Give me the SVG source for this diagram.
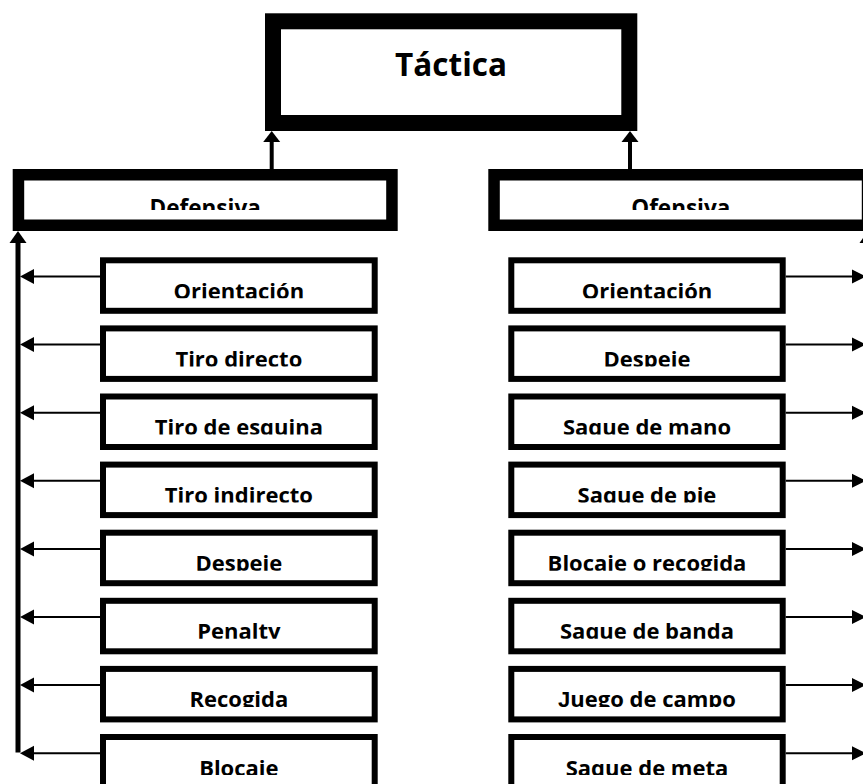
<svg xmlns="http://www.w3.org/2000/svg" width="863" height="784" viewBox="0 0 863 784">
<style>
text{font-family:"Open Sans","Noto Sans","Liberation Sans",sans-serif;font-weight:700;fill:#000;text-anchor:middle}
.sm{font-size:22px}
.hd{font-size:22.5px}
.top{font-size:31.5px}
.j{font-family:"Liberation Sans",sans-serif}
.box{fill:#fff;stroke:#000;stroke-width:6}
.hbox{fill:#fff;stroke:#000;stroke-width:11.5}
.tbox{fill:#fff;stroke:#000;stroke-width:16}
.thin{stroke:#000;stroke-width:2;fill:none}
.thick{stroke:#000;stroke-width:5;fill:none}
.mid{stroke:#000;stroke-width:4;fill:none}
.head{fill:#000}
</style>
<defs>
<clipPath id="cs" clipPathUnits="userSpaceOnUse"><rect x="0" y="0" width="400" height="41"/></clipPath>
<clipPath id="ch" clipPathUnits="userSpaceOnUse"><rect x="0" y="0" width="400" height="41"/></clipPath>
</defs>
<rect width="863" height="784" fill="#fff"/>

<g id="connectors">
  <line class="mid" x1="271.7" y1="169" x2="271.7" y2="141"/>
  <polygon class="head" points="271.7,131 263.2,142 280.2,142"/>
  <line class="mid" x1="630" y1="169" x2="630" y2="141"/>
  <polygon class="head" points="630,131 621.5,142 638.5,142"/>
  <line class="thick" x1="18" y1="242" x2="18" y2="752.5"/>
  <polygon class="head" points="18,231 9.5,243 26.5,243"/>
  <line class="thick" x1="868" y1="242" x2="868" y2="752.5"/>
  <polygon class="head" points="868,231 859.5,243 876.5,243"/>
  <g id="left-arrows">
    <line class="thin" x1="100" y1="276.5" x2="33" y2="276.5"/><polygon class="head" points="20,276.5 34,269 34,284"/>
    <line class="thin" x1="100" y1="344.6" x2="33" y2="344.6"/><polygon class="head" points="20,344.6 34,337.1 34,352.1"/>
    <line class="thin" x1="100" y1="412.7" x2="33" y2="412.7"/><polygon class="head" points="20,412.7 34,405.2 34,420.2"/>
    <line class="thin" x1="100" y1="480.8" x2="33" y2="480.8"/><polygon class="head" points="20,480.8 34,473.3 34,488.3"/>
    <line class="thin" x1="100" y1="548.9" x2="33" y2="548.9"/><polygon class="head" points="20,548.9 34,541.4 34,556.4"/>
    <line class="thin" x1="100" y1="617" x2="33" y2="617"/><polygon class="head" points="20,617 34,609.5 34,624.5"/>
    <line class="thin" x1="100" y1="685.1" x2="33" y2="685.1"/><polygon class="head" points="20,685.1 34,677.6 34,692.6"/>
    <line class="thin" x1="100" y1="753.2" x2="33" y2="753.2"/><polygon class="head" points="20,753.2 34,745.7 34,760.7"/>
  </g>
  <g id="right-arrows">
    <line class="thin" x1="785.7" y1="276.5" x2="853" y2="276.5"/><polygon class="head" points="866,276.5 852,269.5 852,283.5"/>
    <line class="thin" x1="785.7" y1="344.6" x2="853" y2="344.6"/><polygon class="head" points="866,344.6 852,337.6 852,351.6"/>
    <line class="thin" x1="785.7" y1="412.7" x2="853" y2="412.7"/><polygon class="head" points="866,412.7 852,405.7 852,419.7"/>
    <line class="thin" x1="785.7" y1="480.8" x2="853" y2="480.8"/><polygon class="head" points="866,480.8 852,473.8 852,487.8"/>
    <line class="thin" x1="785.7" y1="548.9" x2="853" y2="548.9"/><polygon class="head" points="866,548.9 852,541.9 852,555.9"/>
    <line class="thin" x1="785.7" y1="617" x2="853" y2="617"/><polygon class="head" points="866,617 852,610 852,624"/>
    <line class="thin" x1="785.7" y1="685.1" x2="853" y2="685.1"/><polygon class="head" points="866,685.1 852,678.1 852,692.1"/>
    <line class="thin" x1="785.7" y1="753.2" x2="853" y2="753.2"/><polygon class="head" points="866,753.2 852,746.2 852,760.2"/>
  </g>
</g>

<g id="tactica">
  <rect class="tbox" x="273" y="21.3" width="356.3" height="101.7"/>
  <text class="top" x="451" y="76">Táctica</text>
</g>

<g id="defensiva" transform="translate(12.7,169)">
  <rect class="hbox" x="5.75" y="5.75" width="373.5" height="50.5"/>
  <text class="hd" x="192.5" y="46.6" clip-path="url(#ch)">Defensiva</text>
</g>
<g id="ofensiva" transform="translate(488.3,169)">
  <rect class="hbox" x="5.75" y="5.75" width="373.5" height="50.5"/>
  <text class="hd" x="192.5" y="46.6" clip-path="url(#ch)">Ofensiva</text>
</g>

<g id="d1" transform="translate(100,257.3)"><rect class="box" x="3" y="3" width="271.7" height="50.5"/><text class="sm" x="138.85" y="41.6" clip-path="url(#cs)">Orientación</text></g>
<g id="d2" transform="translate(100,325.4)"><rect class="box" x="3" y="3" width="271.7" height="50.5"/><text class="sm" x="138.85" y="41.6" clip-path="url(#cs)">Tiro directo</text></g>
<g id="d3" transform="translate(100,393.5)"><rect class="box" x="3" y="3" width="271.7" height="50.5"/><text class="sm" x="138.85" y="41.6" clip-path="url(#cs)">Tiro de esquina</text></g>
<g id="d4" transform="translate(100,461.6)"><rect class="box" x="3" y="3" width="271.7" height="50.5"/><text class="sm" x="138.85" y="41.6" clip-path="url(#cs)">Tiro indirecto</text></g>
<g id="d5" transform="translate(100,529.7)"><rect class="box" x="3" y="3" width="271.7" height="50.5"/><text class="sm" x="138.85" y="41.6" clip-path="url(#cs)">Despeje</text></g>
<g id="d6" transform="translate(100,597.8)"><rect class="box" x="3" y="3" width="271.7" height="50.5"/><text class="sm" x="138.85" y="41.6" clip-path="url(#cs)">Penalty</text></g>
<g id="d7" transform="translate(100,665.9)"><rect class="box" x="3" y="3" width="271.7" height="50.5"/><text class="sm" x="138.85" y="41.6" clip-path="url(#cs)">Recogida</text></g>
<g id="d8" transform="translate(100,734)"><rect class="box" x="3" y="3" width="271.7" height="50.5"/><text class="sm" x="138.85" y="41.6" clip-path="url(#cs)">Blocaje</text></g>

<g id="o1" transform="translate(508.3,257.3)"><rect class="box" x="3" y="3" width="271.4" height="50.5"/><text class="sm" x="138.7" y="41.6" clip-path="url(#cs)">Orientación</text></g>
<g id="o2" transform="translate(508.3,325.4)"><rect class="box" x="3" y="3" width="271.4" height="50.5"/><text class="sm" x="138.7" y="41.6" clip-path="url(#cs)">Despeje</text></g>
<g id="o3" transform="translate(508.3,393.5)"><rect class="box" x="3" y="3" width="271.4" height="50.5"/><text class="sm" x="138.7" y="41.6" clip-path="url(#cs)">Saque de mano</text></g>
<g id="o4" transform="translate(508.3,461.6)"><rect class="box" x="3" y="3" width="271.4" height="50.5"/><text class="sm" x="138.7" y="41.6" clip-path="url(#cs)">Saque de pie</text></g>
<g id="o5" transform="translate(508.3,529.7)"><rect class="box" x="3" y="3" width="271.4" height="50.5"/><text class="sm" x="138.7" y="41.6" clip-path="url(#cs)">Blocaje o recogida</text></g>
<g id="o6" transform="translate(508.3,597.8)"><rect class="box" x="3" y="3" width="271.4" height="50.5"/><text class="sm" x="138.7" y="41.6" clip-path="url(#cs)">Saque de banda</text></g>
<g id="o7" transform="translate(508.3,665.9)"><rect class="box" x="3" y="3" width="271.4" height="50.5"/><text class="sm" x="138.7" y="41.6" clip-path="url(#cs)"><tspan class="j">J</tspan>uego de campo</text></g>
<g id="o8" transform="translate(508.3,734)"><rect class="box" x="3" y="3" width="271.4" height="50.5"/><text class="sm" x="138.7" y="41.6" clip-path="url(#cs)">Saque de meta</text></g>
</svg>
